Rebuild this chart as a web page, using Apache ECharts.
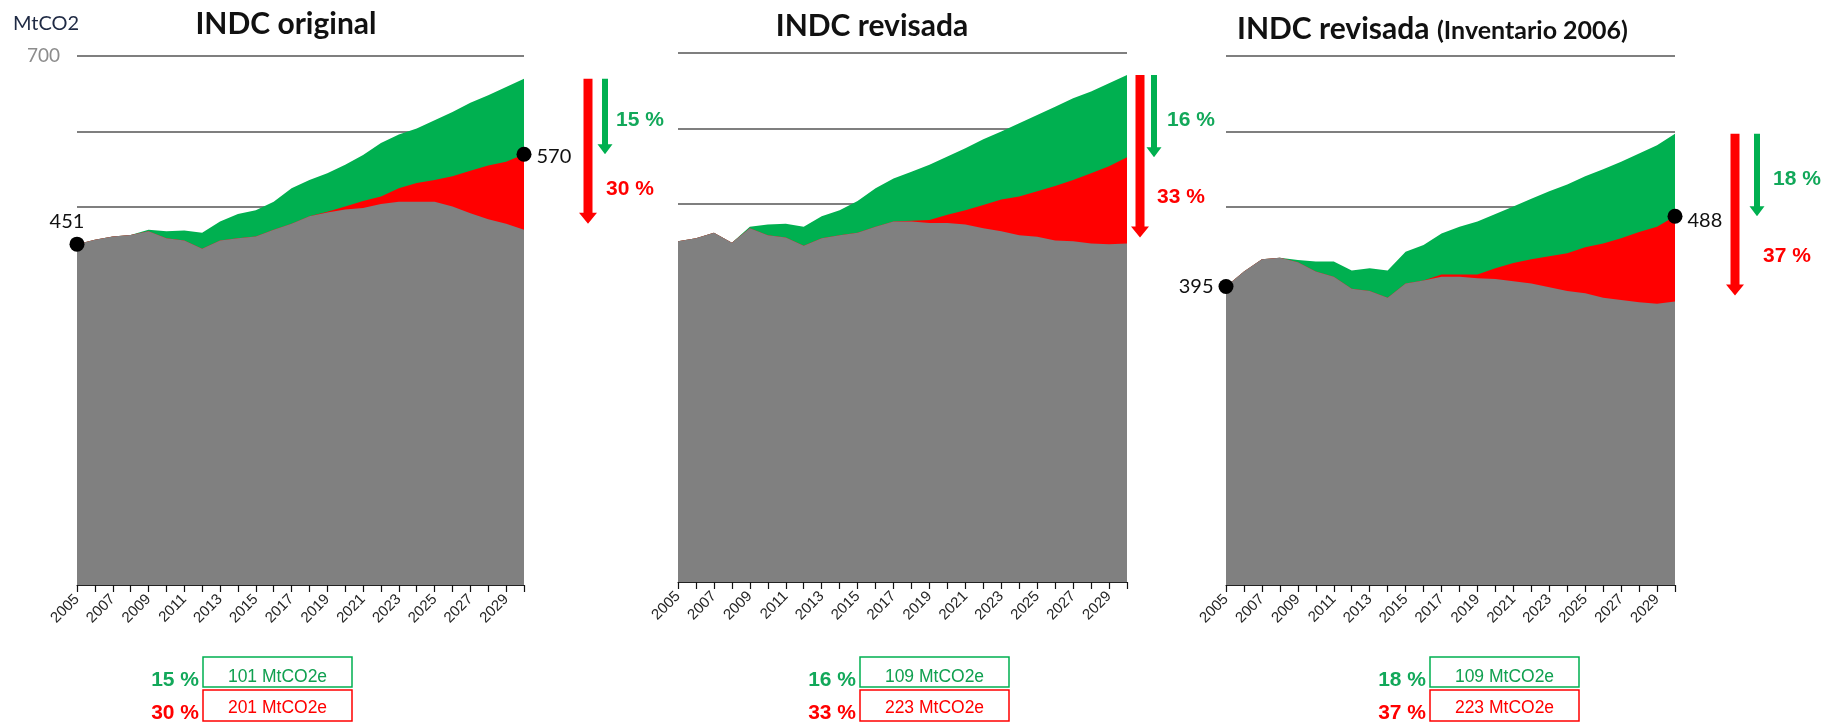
<!DOCTYPE html>
<html>
<head>
<meta charset="utf-8">
<title>INDC</title>
<script src="https://cdn.jsdelivr.net/npm/echarts@6/dist/echarts.min.js"></script>
<style>
    html, body { margin: 0; padding: 0; background: #fff; }
    #chart { width: 1829px; height: 723px; }
</style>
</head>
<body>
<div id="chart"></div>
<script>
// Years on the x axis
var years = ['2005', '2006', '2007', '2008', '2009', '2010', '2011', '2012', '2013',
    '2014', '2015', '2016', '2017', '2018', '2019', '2020', '2021', '2022', '2023',
    '2024', '2025', '2026', '2027', '2028', '2029', '2030'];

// INDC original (MtCO2)
var origBase = [451, 457, 461, 463, 470, 468, 469, 466, 481, 491, 496, 507, 525,
    536, 545, 556, 569, 585, 596, 604, 615, 626, 638, 648, 659, 670];
var origCond = [451, 457, 461, 463, 468, 459, 456, 445, 456, 459, 461, 470, 478,
    488, 494, 501, 508, 514, 525, 532, 536, 541, 548, 555, 560, 570];
var origUncond = [451, 457, 461, 463, 468, 459, 456, 445, 456, 459, 461, 470, 478,
    488, 493, 497, 499, 504, 507, 507, 507, 501, 492, 484, 478, 470];

// INDC revisada
var revBase = [451, 455, 462, 449, 470, 473, 474, 470, 484, 492, 504, 521, 534,
    543, 552, 563, 574, 586, 596, 607, 618, 629, 640, 649, 660, 671];
var revCond = [451, 455, 462, 449, 468, 459, 456, 445, 455, 459, 462, 470, 477,
    478, 479, 486, 492, 499, 506, 510, 517, 524, 532, 541, 550, 562];
var revUncond = [451, 455, 462, 449, 468, 459, 456, 445, 455, 459, 462, 470, 477,
    477, 475, 475, 473, 468, 464, 459, 457, 452, 451, 448, 447, 448];

// INDC revisada (Inventario 2006)
var invBase = [395, 415, 431, 433, 430, 428, 428, 416, 419, 416, 441, 450, 465,
    474, 481, 491, 501, 511, 521, 530, 541, 550, 560, 571, 582, 597];
var invCond = [395, 415, 431, 433, 427, 415, 408, 392, 389, 380, 399, 403, 411,
    411, 411, 419, 426, 431, 435, 439, 447, 452, 459, 467, 474, 488];
var invUncond = [395, 415, 431, 433, 427, 415, 408, 392, 389, 380, 399, 403, 408,
    408, 406, 405, 402, 399, 394, 389, 386, 380, 377, 374, 372, 375];

var yTicks = [0, 100, 200, 300, 400, 500, 600, 700];
var titles = ['INDC original', 'INDC revisada', 'INDC revisada'];
var titleNote = '(Inventario 2006)';
var condPct = ['15 %', '16 %', '18 %'];
var uncondPct = ['30 %', '33 %', '37 %'];
var condMt = ['101 MtCO2e', '109 MtCO2e', '109 MtCO2e'];
var uncondMt = ['201 MtCO2e', '223 MtCO2e', '223 MtCO2e'];

var GREEN = '#00b050';
var RED = '#ff0000';
var GRAY = '#808080';
var CALIBRI = 'Lato, "Open Sans", sans-serif';
var ARIAL = '"Liberation Sans", Arial, sans-serif';

var panels = [
    { base: origBase, cond: origCond, uncond: origUncond, startDot: true, endDot: true },
    { base: revBase, cond: revCond, uncond: revUncond, startDot: false, endDot: false },
    { base: invBase, cond: invCond, uncond: invUncond, startDot: true, endDot: true }
];

// Layout of each panel (pixels)
var layout = [
    { grid: { left: 77, top: 56, width: 447, height: 529 }, titleX: 286, titleY: 24,
      redDx: 64, greenDx: 81, greenLabelDx: 11, redLabelDx: 18, startPos: 'top',
      box: 203 },
    { grid: { left: 678, top: 53, width: 449, height: 529 }, titleX: 872, titleY: 26,
      redDx: 13, greenDx: 27, greenLabelDx: 13, redLabelDx: 17, startPos: 'top',
      box: 860 },
    { grid: { left: 1226, top: 56, width: 449, height: 529 }, titleX: 1237, titleY: 29,
      redDx: 60, greenDx: 82, greenLabelDx: 16, redLabelDx: 28, startPos: 'left',
      box: 1430 }
];

function areaSeries(p, name, values, color, extra) {
    var s = {
        name: name,
        type: 'line',
        xAxisIndex: p,
        yAxisIndex: p,
        data: values,
        symbol: 'none',
        silent: true,
        lineStyle: { width: 0, opacity: 0 },
        areaStyle: { color: color, opacity: 1, origin: 'start' }
    };
    if (extra) s.markPoint = extra;
    return s;
}

function dotMark(coordX, value, position, offset) {
    return {
        symbol: 'circle',
        symbolSize: 15,
        silent: true,
        itemStyle: { color: '#000' },
        label: {
            show: true,
            position: position,
            distance: 5,
            offset: offset,
            formatter: '{c}',
            color: '#111',
            fontFamily: CALIBRI,
            fontSize: 20
        },
        data: [{ coord: [coordX, value], value: value }]
    };
}

var grids = [], xAxes = [], yAxes = [], series = [];

panels.forEach(function(pn, p) {
    var lay = layout[p];
    var last = years.length - 1;
    grids.push(lay.grid);

    xAxes.push({
        type: 'category',
        gridIndex: p,
        data: years,
        boundaryGap: false,
        axisLine: { lineStyle: { color: '#222', width: 1 } },
        axisTick: { show: true, interval: 0, length: 7, lineStyle: { color: '#111', width: 1.2 } },
        axisLabel: {
            interval: 1,
            rotate: 45,
            margin: 12,
            fontSize: 15,
            fontFamily: ARIAL,
            color: '#262626'
        },
        splitLine: { show: false }
    });

    yAxes.push({
        type: 'value',
        gridIndex: p,
        min: yTicks[0],
        max: yTicks[yTicks.length - 1],
        interval: 100,
        axisLine: { show: false },
        axisTick: { show: false },
        axisLabel: {
            show: p === 0,
            margin: 17,
            color: '#8c8c8c',
            fontSize: 19,
            fontFamily: CALIBRI,
            formatter: function(v) { return v === 700 ? String(v) : ''; }
        },
        splitLine: { lineStyle: { color: '#7f7f7f', width: 2 } }
    });

    var endMark = pn.endDot ? dotMark(years[last], pn.cond[last], 'right', [0, p === 2 ? 4 : 2]) : null;
    var startMark = pn.startDot
        ? dotMark(years[0], pn.uncond[0], lay.startPos, lay.startPos === 'top' ? [-10, 0] : [0, 0])
        : null;

    series.push(areaSeries(p, 'base' + p, pn.base, GREEN));
    series.push(areaSeries(p, 'cond' + p, pn.cond, RED, endMark));
    series.push(areaSeries(p, 'uncond' + p, pn.uncond, GRAY, startMark));
});

var chart = echarts.init(document.getElementById('chart'));

chart.setOption({
    animation: false,
    grid: grids,
    xAxis: xAxes,
    yAxis: yAxes,
    series: series
});

function txt(x, y, text, font, color, align) {
    return {
        type: 'text',
        x: x,
        y: y,
        silent: true,
        style: {
            text: text,
            font: font,
            fill: color,
            align: align || 'left',
            verticalAlign: 'middle',
            textAlign: align || 'left',
            textVerticalAlign: 'middle'
        }
    };
}

function arrow(x, y0, y1, half, headHalf, headLen, color) {
    return {
        type: 'polygon',
        silent: true,
        shape: {
            points: [[x - half, y0], [x + half, y0], [x + half, y1 - headLen],
                [x + headHalf, y1 - headLen], [x, y1], [x - headHalf, y1 - headLen],
                [x - half, y1 - headLen]]
        },
        style: { fill: color }
    };
}

// Annotations placed from the data through the axes
function buildOverlay() {
    var els = [];
    var last = years.length - 1;

    els.push(txt(13, 24, 'MtCO2', '20px ' + CALIBRI, '#1f2a44'));

    panels.forEach(function(pn, p) {
        var lay = layout[p];
        var ptBase = chart.convertToPixel({ gridIndex: p }, [last, pn.base[last]]);
        var ptCond = chart.convertToPixel({ gridIndex: p }, [last, pn.cond[last]]);
        var ptUnc = chart.convertToPixel({ gridIndex: p }, [last, pn.uncond[last]]);
        var right = ptBase[0];
        var rx = right + lay.redDx;
        var gx = right + lay.greenDx;

        // Title
        if (p < 2) {
            els.push(txt(lay.titleX, lay.titleY, titles[p], 'bold 30px ' + CALIBRI, '#111', 'center'));
        } else {
            els.push(txt(lay.titleX, lay.titleY, titles[p], 'bold 30px ' + CALIBRI, '#111'));
            els.push(txt(lay.titleX + 200, lay.titleY + 2, titleNote, 'bold 25px ' + CALIBRI, '#111'));
        }

        // Reduction arrows
        els.push(arrow(rx, ptBase[1], ptUnc[1] - 6, 4.5, 9, 11, RED));
        els.push(arrow(gx, ptBase[1], ptCond[1], 3, 7.5, 10, GREEN));
        els.push(txt(gx + lay.greenLabelDx, (ptBase[1] + ptCond[1]) / 2 + 4, condPct[p],
            'bold 21px ' + ARIAL, '#12a85a'));
        els.push(txt(rx + lay.redLabelDx, (ptCond[1] + ptUnc[1]) / 2 - 3, uncondPct[p],
            'bold 21px ' + ARIAL, RED));

        // Summary boxes
        var bx = lay.box;
        els.push({
            type: 'rect', silent: true,
            shape: { x: bx, y: 657, width: 149, height: 30 },
            style: { fill: 'none', stroke: GREEN, lineWidth: 1.5 }
        });
        els.push({
            type: 'rect', silent: true,
            shape: { x: bx, y: 690, width: 149, height: 31 },
            style: { fill: 'none', stroke: RED, lineWidth: 1.5 }
        });
        els.push(txt(bx + 74.5, 677, condMt[p], '17.5px ' + ARIAL, '#10a050', 'center'));
        els.push(txt(bx + 74.5, 708, uncondMt[p], '17.5px ' + ARIAL, RED, 'center'));
        els.push(txt(bx - 4, 680, condPct[p], 'bold 21px ' + ARIAL, '#12a85a', 'right'));
        els.push(txt(bx - 4, 713, uncondPct[p], 'bold 21px ' + ARIAL, RED, 'right'));
    });
    return els;
}

chart.setOption({ graphic: buildOverlay() });

window.addEventListener('resize', function() {
    chart.resize();
});
</script>
</body>
</html>
